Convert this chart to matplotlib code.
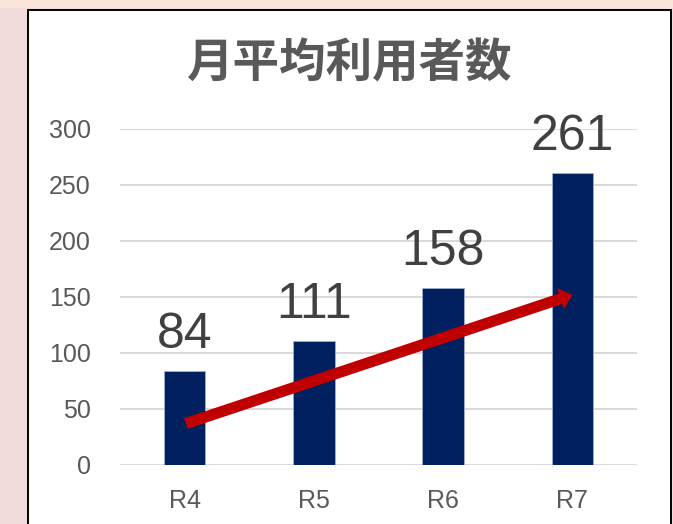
import numpy as np
from matplotlib import pyplot as plt
from matplotlib.patches import Rectangle

# dados do gráfico
categories = ["R4", "R5", "R6", "R7"]
users = [84, 111, 158, 261]
y_ticks = [0, 50, 100, 150, 200, 250, 300]
title = "月平均利用者数"

# seta de tendência (coordenadas em dados)
arrow_start = (0.01, 37)
arrow_end = (3.0, 152)

W, H = 673, 524

fig = plt.figure(figsize=(W / 100, H / 100), dpi=100)
fig.patch.set_facecolor("#f2dcdb")

# faixa superior e moldura branca
fig.add_artist(Rectangle((0, 1 - 8 / H), 1, 8 / H, transform=fig.transFigure,
                         facecolor="#fbe5d6", edgecolor="none", zorder=-2))
fig.add_artist(Rectangle((27.5 / W, -0.05), (670.5 - 27.5) / W, 1.05 - 9.5 / H,
                         transform=fig.transFigure, facecolor="white",
                         edgecolor="black", linewidth=1.4, zorder=-1))

ax = fig.add_axes([120 / W, 1 - 465 / H, 517 / W, 336 / H])
ax.set_facecolor("none")

x = np.arange(len(categories))
ax.bar(x, users, width=0.32, color="#002060", edgecolor="#9fb0d0",
       linewidth=0.6, zorder=3)

for xi, v in zip(x, users):
    ax.annotate(str(v), (xi, v), xytext=(0, 16.5), textcoords="offset points",
                ha="center", va="baseline", fontsize=36,
                family="Liberation Sans", color="#404040")

ax.annotate("", xy=arrow_end, xytext=arrow_start,
            arrowprops=dict(arrowstyle="simple,head_length=0.45,head_width=0.8,tail_width=0.4",
                            mutation_scale=20, color="#c00000", lw=0,
                            shrinkA=0, shrinkB=0),
            zorder=4)

ax.set_xlim(-0.5, len(categories) - 0.5)
ax.set_ylim(0, 300)
ax.set_yticks(y_ticks)
ax.set_xticks(x)
ax.set_xticklabels(categories)
ax.yaxis.grid(True, color="#d9d9d9", linewidth=1.4, zorder=0)
ax.set_axisbelow(True)
for s in ax.spines.values():
    s.set_visible(False)
ax.tick_params(axis="both", length=0, labelsize=18, labelcolor="#595959")
ax.tick_params(axis="y", pad=21)
ax.tick_params(axis="x", pad=17)
for lab in ax.get_xticklabels() + ax.get_yticklabels():
    lab.set_family("Liberation Sans")

fig.text(349 / W, 1 - 63 / H, title, ha="center", va="center", fontsize=33.5,
         fontweight="bold", family=["Noto Sans CJK JP", "DejaVu Sans"],
         color="#595959")

fig.savefig("out.png", dpi=100, facecolor=fig.get_facecolor())
